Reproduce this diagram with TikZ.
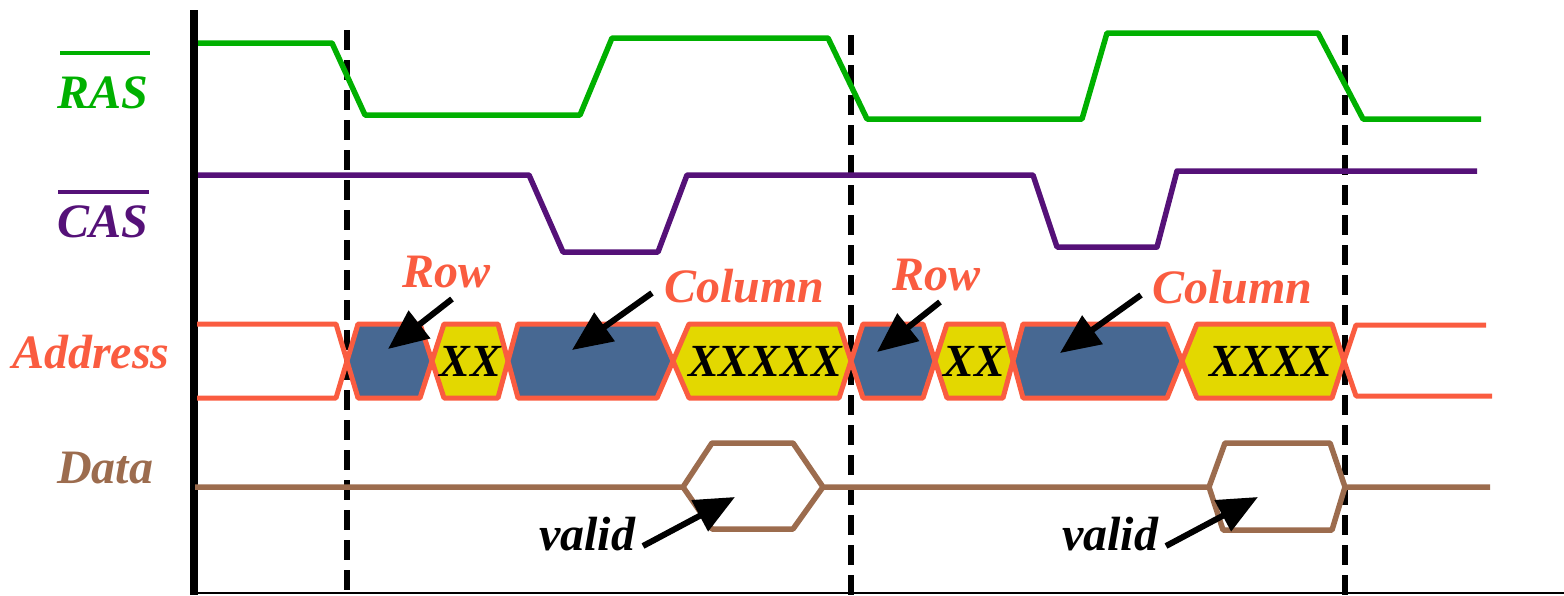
\documentclass[tikz,border=0pt]{standalone}
\usepackage{fontspec}
\setmainfont{Liberation Serif}
\usetikzlibrary{arrows.meta}
\definecolor{rasgreen}{RGB}{0,176,0}
\definecolor{caspurple}{RGB}{85,17,120}
\definecolor{addrorange}{RGB}{250,92,64}
\definecolor{rowblue}{RGB}{71,104,146}
\definecolor{xxyellow}{RGB}{227,216,0}
\definecolor{databrown}{RGB}{156,108,78}
\begin{document}
\begin{tikzpicture}[x=1pt,y=-1pt,
  lbl/.style={font=\fontsize{48}{52}\selectfont\bfseries\itshape, inner sep=0pt, anchor=base west},
  xxlbl/.style={font=\fontsize{46}{50}\selectfont\bfseries\itshape, inner sep=0pt, text=black},
  sig/.style={line width=5.5pt, line join=round},
  bus/.style={line width=5pt, draw=addrorange, line join=round},
  rowseg/.style={bus, fill=rowblue},
  xxseg/.style={bus, fill=xxyellow},
  pointer/.style={line width=6pt, draw=black, -{Triangle[length=40pt,width=34pt]}},
  guide/.style={line width=6pt, dash pattern=on 20pt off 10pt},
  bar/.style={line width=4.5pt}]
\useasboundingbox (0,0) rectangle (1564,595);

% axes
\draw[line width=7.5pt] (194,10) -- (194,595);
\draw[line width=2pt] (194,593) -- (1564,593);

% dashed guides
\draw[guide] (347,30) -- (347,595);
\draw[guide] (851,35) -- (851,595);
\draw[guide] (1345,35) -- (1345,595);

% labels
\node[lbl, text=rasgreen] (ras) at (57,108) {RAS};
\draw[bar, rasgreen] (60,53) -- (150,53);
\node[lbl, text=caspurple] (cas) at (57,237) {CAS};
\draw[bar, caspurple] (58,192) -- (149,192);
\node[lbl, text=addrorange] (addr) at (12,368) {Address};
\node[lbl, text=databrown] (data) at (57,483) {Data};

% RAS
\draw[sig, rasgreen] (198,43) -- (332,43) -- (365,115) -- (580,115) -- (612,38) -- (828,38) -- (867,119) -- (1082,119) -- (1107,33) -- (1318,33) -- (1363,119) -- (1481,119);
% CAS
\draw[sig, caspurple] (198,175) -- (529,175) -- (563,252) -- (658,252) -- (687,175) -- (1033,175) -- (1057,247) -- (1157,247) -- (1177,171) -- (1477,171);

% Address bus
\draw[bus] (197,324) -- (336,324) -- (347,361) -- (336,398) -- (197,398);
\draw[rowseg] (347,361) -- (358,324) -- (420,324) -- (432,361) -- (420,398) -- (358,398) -- cycle;
\draw[xxseg] (432,361) -- (444,324) -- (498,324) -- (508,361) -- (498,398) -- (444,398) -- cycle;
\draw[rowseg] (508,361) -- (518,324) -- (657,324) -- (673,361) -- (657,398) -- (518,398) -- cycle;
\draw[xxseg] (673,361) -- (689,324) -- (839,324) -- (851,361) -- (839,398) -- (689,398) -- cycle;
\draw[rowseg] (851,361) -- (863,324) -- (923,324) -- (935,361) -- (923,398) -- (863,398) -- cycle;
\draw[xxseg] (935,361) -- (947,324) -- (1003,324) -- (1013,361) -- (1003,398) -- (947,398) -- cycle;
\draw[rowseg] (1013,361) -- (1023,324) -- (1167,324) -- (1182,361) -- (1167,398) -- (1023,398) -- cycle;
\draw[xxseg] (1182,361) -- (1197,324) -- (1332,324) -- (1344,361) -- (1332,398) -- (1197,398) -- cycle;
\draw[bus] (1486,325) -- (1356,325) -- (1344,361) -- (1356,396) -- (1492,396);

\node[xxlbl] (xx1) at (470,361) {XX};
\node[xxlbl] (xx2) at (765,361) {XXXXX};
\node[xxlbl] (xx3) at (974,361) {XX};
\node[xxlbl] (xx4) at (1271,361) {XXXX};

% Data bus
\draw[sig, databrown] (195,487) -- (683,487) -- (712,443) -- (793,443) -- (823,487) -- (1209,487) -- (1225,443) -- (1330,443) -- (1345,487) -- (1490,487);
\draw[sig, databrown] (683,487) -- (712,529) -- (793,529) -- (823,487);
\draw[sig, databrown] (1209,487) -- (1223,530) -- (1332,530) -- (1345,487);

% annotations
\node[lbl, text=addrorange] (row1) at (402,287) {Row};
\node[lbl, text=addrorange] (col1) at (664,302) {Column};
\node[lbl, text=addrorange] (row2) at (892,290) {Row};
\node[lbl, text=addrorange] (col2) at (1152,303) {Column};
\node[lbl, text=black] (val1) at (539,550) {valid};
\node[lbl, text=black] (val2) at (1062,550) {valid};

\coordinate (r1t) at (452,299); \coordinate (r1h) at (388,349);
\coordinate (c1t) at (652,293); \coordinate (c1h) at (572,350);
\coordinate (r2t) at (940,302); \coordinate (r2h) at (877,352);
\coordinate (c2t) at (1141,295); \coordinate (c2h) at (1060,353);
\coordinate (v1t) at (643,546); \coordinate (v1h) at (735,497);
\coordinate (v2t) at (1166,546); \coordinate (v2h) at (1258,497);
\draw[pointer] (r1t) -- (r1h);
\draw[pointer] (c1t) -- (c1h);
\draw[pointer] (r2t) -- (r2h);
\draw[pointer] (c2t) -- (c2h);
\draw[pointer] (v1t) -- (v1h);
\draw[pointer] (v2t) -- (v2h);
\end{tikzpicture}
\end{document}
